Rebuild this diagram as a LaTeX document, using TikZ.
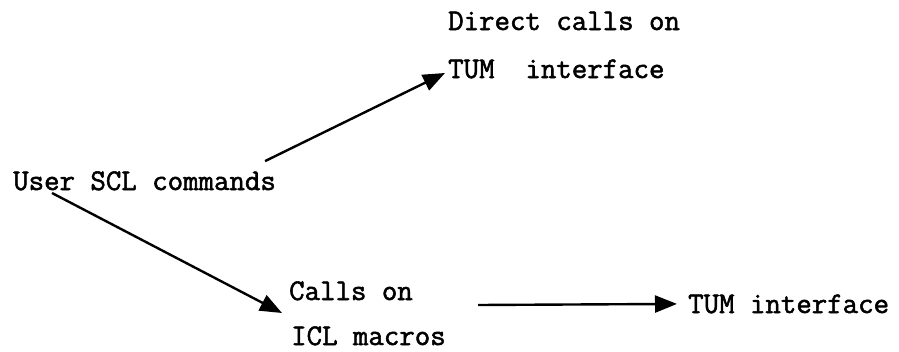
\documentclass[tikz,border=0pt]{standalone}
\usepackage{fontspec}
\setmonofont{Latin Modern Mono}[FakeBold=1.8]
\usetikzlibrary{arrows.meta}
\begin{document}
\begin{tikzpicture}[x=1pt,y=-1pt,line width=2.4pt,>={Triangle[length=22pt,width=17pt]},
  every node/.style={anchor=base west,inner sep=0pt,font=\ttfamily\fontsize{30}{36}\selectfont}]
\useasboundingbox (0,0) rectangle (899,351);
\node (direct) at (447,30) {Direct calls on};
\node (tumtop) at (447,78) {TUM~~interface};
\node (user) at (12,190) {User SCL commands};
\node (calls) at (288,300) {Calls on};
\node (macros) at (290,345) {ICL macros};
\node (tum) at (687,313) {TUM interface};
\draw [->] ([xshift=-12pt,yshift=9pt]user.north east) -- ([xshift=-2pt,yshift=5pt]tumtop.base west);
\draw [->] ([xshift=40pt,yshift=-3pt]user.base west) -- ([xshift=-6pt,yshift=-13pt]calls.base west);
\draw [->] ([xshift=64pt,yshift=-5pt]calls.base east) -- ([xshift=-10pt]tum.west);
\end{tikzpicture}
\end{document}
